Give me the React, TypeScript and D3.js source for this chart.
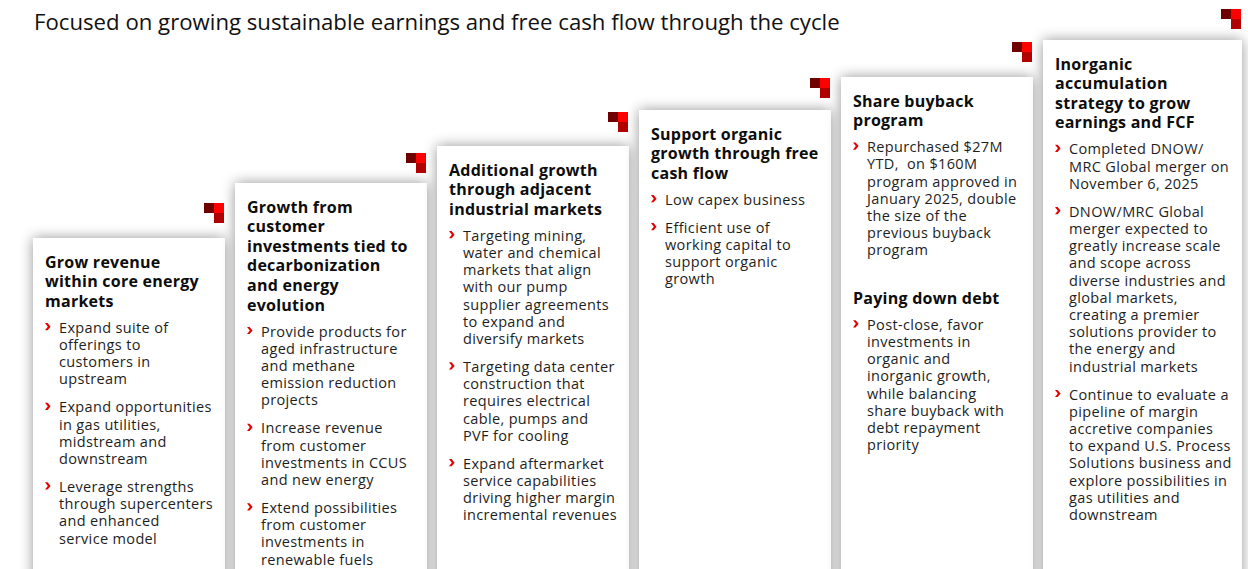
import React from "react";
import * as d3 from "d3";

const PAGE_TITLE = "Focused on growing sustainable earnings and free cash flow through the cycle";

type Block = { kind: "title" | "bullet"; lines: string[] };

const card1: Block[] = [
  { kind: "title", lines: ["Grow revenue", "within core energy", "markets"] },
  { kind: "bullet", lines: ["Expand suite of", "offerings to", "customers in", "upstream"] },
  { kind: "bullet", lines: ["Expand opportunities", "in gas utilities,", "midstream and", "downstream"] },
  { kind: "bullet", lines: ["Leverage strengths", "through supercenters", "and enhanced", "service model"] },
];
const card2: Block[] = [
  { kind: "title", lines: ["Growth from", "customer", "investments tied to", "decarbonization", "and energy", "evolution"] },
  { kind: "bullet", lines: ["Provide products for", "aged infrastructure", "and methane", "emission reduction", "projects"] },
  { kind: "bullet", lines: ["Increase revenue", "from customer", "investments in CCUS", "and new energy"] },
  { kind: "bullet", lines: ["Extend possibilities", "from customer", "investments in", "renewable fuels"] },
];
const card3: Block[] = [
  { kind: "title", lines: ["Additional growth", "through adjacent", "industrial markets"] },
  { kind: "bullet", lines: ["Targeting mining,", "water and chemical", "markets that align", "with our pump", "supplier agreements", "to expand and", "diversify markets"] },
  { kind: "bullet", lines: ["Targeting data center", "construction that", "requires electrical", "cable, pumps and", "PVF for cooling"] },
  { kind: "bullet", lines: ["Expand aftermarket", "service capabilities", "driving higher margin", "incremental revenues"] },
];
const card4: Block[] = [
  { kind: "title", lines: ["Support organic", "growth through free", "cash flow"] },
  { kind: "bullet", lines: ["Low capex business"] },
  { kind: "bullet", lines: ["Efficient use of", "working capital to", "support organic", "growth"] },
];
const card5: Block[] = [
  { kind: "title", lines: ["Share buyback", "program"] },
  { kind: "bullet", lines: ["Repurchased $27M", "YTD,\u00a0 on $160M", "program approved in", "January 2025, double", "the size of the", "previous buyback", "program"] },
  { kind: "title", lines: ["Paying down debt"] },
  { kind: "bullet", lines: ["Post-close, favor", "investments in", "organic and", "inorganic growth,", "while balancing", "share buyback with", "debt repayment", "priority"] },
];
const card6: Block[] = [
  { kind: "title", lines: ["Inorganic", "accumulation", "strategy to grow", "earnings and FCF"] },
  { kind: "bullet", lines: ["Completed DNOW/", "MRC Global merger on", "November 6, 2025"] },
  { kind: "bullet", lines: ["DNOW/MRC Global", "merger expected to", "greatly increase scale", "and scope across", "diverse industries and", "global markets,", "creating a premier", "solutions provider to", "the energy and", "industrial markets"] },
  { kind: "bullet", lines: ["Continue to evaluate a", "pipeline of margin", "accretive companies", "to expand U.S. Process", "Solutions business and", "explore possibilities in", "gas utilities and", "downstream"] },
];

const cards = [card1, card2, card3, card4, card5, card6];

// layout
const W = 1248;
const H = 569;
const cardTops = [238, 183, 146, 110, 77, 40];
const cardWidths = [192, 192, 192, 192, 192, 199];
const iconTops = [203, 153, 112, 78, 42, 9];

const FONT = "'Open Sans', 'DejaVu Sans', sans-serif";
const TITLE_STEP = 19.6;
const BODY_STEP = 17.2;

type Line = { text: string; y: number; kind: "title" | "bullet"; first: boolean };

function layout(blocks: Block[], top: number): Line[] {
  const out: Line[] = [];
  let y = top + 24;
  let prev: "title" | "bullet" | null = null;
  blocks.forEach((b) => {
    if (prev === "title" && b.kind === "bullet") y += 26.5;
    else if (prev === "bullet" && b.kind === "bullet") y += 28;
    else if (prev === "bullet" && b.kind === "title") y += 48;
    b.lines.forEach((t, i) => {
      if (i > 0) y += b.kind === "title" ? TITLE_STEP : BODY_STEP;
      out.push({ text: t, y, kind: b.kind, first: i === 0 });
    });
    prev = b.kind;
  });
  return out;
}

export default function App() {
  const x = d3.scaleLinear().domain([0, 5]).range([33, 1043]);
  return (
    <svg width={W} height={H} style={{ position: "absolute", left: 0, top: 0, background: "#fff" }} fontFamily={FONT}>
      <defs>
        <filter id="shadow" x="-20%" y="-20%" width="140%" height="140%">
          <feGaussianBlur in="SourceAlpha" stdDeviation="7" />
          <feComponentTransfer>
            <feFuncA type="linear" slope="0.42" />
          </feComponentTransfer>
          <feMerge>
            <feMergeNode />
            <feMergeNode in="SourceGraphic" />
          </feMerge>
        </filter>
      </defs>
      <rect width={W} height={H} fill="#fff" />
      <text x={34} y={22} dy="0.35em" fontSize={22.2} fill="#111">
        {PAGE_TITLE}
      </text>
      {cards.map((blocks, ci) => {
        const left = x(ci);
        const top = cardTops[ci];
        const w = cardWidths[ci];
        const lines = layout(blocks, top);
        const ix = left + w - 21;
        const iy = iconTops[ci];
        return (
          <g key={ci}>
            <rect x={left} y={top} width={w} height={H - top + 30} fill="#fff" filter="url(#shadow)" />
            <rect x={ix} y={iy} width={10} height={10} fill="#6e0000" />
            <rect x={ix + 10} y={iy} width={10} height={10} fill="#ff0000" />
            <rect x={ix + 10} y={iy + 10} width={10} height={10} fill="#b00000" />
            {lines.map((l, li) =>
              l.kind === "title" ? (
                <text key={li} x={left + 12} y={l.y} dy="0.35em" fontSize={16} letterSpacing={0.25} fontWeight={700} fill="#0d0d0d">
                  {l.text}
                </text>
              ) : (
                <g key={li}>
                  {l.first && (
                    <path
                      transform={`translate(${left + 12},${l.y - 1})`}
                      d="M0,-3.6 L2.6,-3.6 L5.6,0 L2.6,3.6 L0,3.6 L2.8,0 Z"
                      fill="#e60000"
                    />
                  )}
                  <text x={left + 26} y={l.y} dy="0.35em" fontSize={14.5} letterSpacing={0.35} fill="#1e1e1e">
                    {l.text}
                  </text>
                </g>
              )
            )}
          </g>
        );
      })}
    </svg>
  );
}
